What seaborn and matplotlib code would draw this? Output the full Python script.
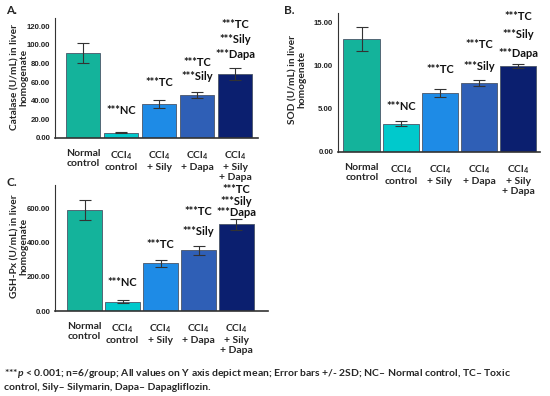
import matplotlib
matplotlib.use("Agg")
import matplotlib.pyplot as plt
import seaborn as sns
import pandas as pd
import numpy as np

# ---------------- data ----------------
groups = ["Normal\ncontrol", "CCl$_{\\mathbf{4}}$\ncontrol", "CCl$_{\\mathbf{4}}$\n+ Sily",
          "CCl$_{\\mathbf{4}}$\n+ Dapa", "CCl$_{\\mathbf{4}}$\n+ Sily\n+ Dapa"]
colors = ["#14b39b", "#00c9cc", "#1e8be6", "#2f5fb6", "#0b1f6f"]

catalase_mean = [91.0, 5.7, 36.6, 46.6, 68.8]
catalase_err = [10.6, 0.7, 4.6, 3.2, 6.6]
sod_mean = [13.0, 3.25, 6.8, 7.95, 9.88]
sod_err = [1.4, 0.27, 0.42, 0.33, 0.22]
gsh_mean = [596, 55, 280, 357, 509]
gsh_err = [59, 8, 22, 27, 34]

catalase_ticks = [0, 20, 40, 60, 80, 100, 120]
sod_ticks = [0, 5, 10, 15]
gsh_ticks = [0, 200, 400, 600]

annotations = {1: ["***NC"], 2: ["***TC"], 3: ["***TC", "***Sily"],
               4: ["***TC", "***Sily", "***Dapa"]}

# ---------------- style ----------------
sns.set_theme(style="white")
plt.rcParams["font.family"] = ["Lato", "DejaVu Sans"]
plt.rcParams["font.weight"] = "bold"
plt.rcParams["mathtext.fontset"] = "custom"
plt.rcParams["mathtext.rm"] = "Lato:bold"
plt.rcParams["mathtext.bf"] = "Lato:bold"
plt.rcParams["mathtext.it"] = "Lato:italic:bold"

W, H = 550, 396
fig = plt.figure(figsize=(W / 100, H / 100), dpi=100)


def px_axes(left, top, right, bottom):
    return fig.add_axes([left / W, 1 - bottom / H, (right - left) / W, (bottom - top) / H])


panels = [
    dict(box=(55, 18, 258, 138), mean=catalase_mean, err=catalase_err, ticks=catalase_ticks,
         ylim=128.6, xlim=(-0.74, 4.6), width=0.9,
         ylabel="Catalase (U/mL) in liver\nhomogenate", ylab_xy=(19.5, 77),
         letter="A.", letter_xy=(6, 10),
         gaps={1: 22, 2: 17.5, 3: 15.5, 4: 12.7}, sp={3: 14, 4: 15}),
    dict(box=(338, 13, 540, 152), mean=sod_mean, err=sod_err, ticks=sod_ticks,
         ylim=16.04, xlim=(-0.61, 4.56), width=0.94,
         ylabel="SOD (U/mL) in liver\nhomogenate", ylab_xy=(297.5, 79),
         letter="B.", letter_xy=(284, 10),
         gaps={1: 15, 2: 19.6, 3: 14, 4: 11}, sp={3: 22, 4: 18.5}),
    dict(box=(55, 185, 268, 311), mean=gsh_mean, err=gsh_err, ticks=gsh_ticks,
         ylim=741, xlim=(-0.78, 4.83), width=0.93,
         ylabel="GSH-Px (U/mL) in liver\nhomogenate", ylab_xy=(19.5, 246),
         letter="C.", letter_xy=(6, 183),
         gaps={1: 18, 2: 15.6, 3: 14, 4: 6}, sp={3: 20, 4: 11.5}),
]

for p in panels:
    ax = px_axes(*p["box"])
    df = pd.DataFrame({"group": groups, "value": p["mean"]})
    sns.barplot(data=df, x="group", y="value", hue="group", palette=colors,
                errorbar=None, legend=False, width=p["width"], ax=ax, saturation=1,
                edgecolor="#4a5568", linewidth=0.6)
    ax.errorbar(range(len(groups)), p["mean"], yerr=p["err"], fmt="none",
                ecolor="#333333", elinewidth=0.8, capsize=4.5, capthick=0.8)
    ax.set_ylim(0, p["ylim"])
    ax.set_xlim(*p["xlim"])
    ax.set_yticks(p["ticks"])
    ax.set_yticklabels([f"{t:.2f}" for t in p["ticks"]], fontsize=5.6,
                       family=["Liberation Sans Narrow", "Liberation Sans", "DejaVu Sans"],
                       fontweight="bold")
    ax.set_xticks(range(len(groups)))
    ax.set_xticklabels(groups, fontsize=7.5, fontweight="bold", linespacing=1.15, va="top")
    ax.tick_params(axis="x", length=0, pad=8)
    ax.tick_params(axis="y", length=2, pad=1.5, width=0.6, colors="#222222")
    ax.set_xlabel("")
    ax.set_ylabel("")
    for s in ["top", "right"]:
        ax.spines[s].set_visible(False)
    ax.spines["left"].set_color("#333333")
    ax.spines["left"].set_linewidth(0.8)
    ax.spines["bottom"].set_color("#333333")
    ax.spines["bottom"].set_linewidth(1.2)
    fig.text(p["ylab_xy"][0] / W, 1 - p["ylab_xy"][1] / H, p["ylabel"], rotation=90,
             ha="center", va="center", fontsize=7.3, fontweight="bold", linespacing=1.0)
    fig.text(p["letter_xy"][0] / W, 1 - p["letter_xy"][1] / H, p["letter"],
             ha="left", va="center", fontsize=8.5, fontweight="bold")
    # significance annotations
    for i, lines in annotations.items():
        top = p["mean"][i] + p["err"][i]
        gap = p["gaps"][i]
        sp = p["sp"].get(i, 0)
        n = len(lines)
        for k, line in enumerate(lines):
            off_px = gap + (n - 1 - k) * sp
            ax.annotate(line, xy=(i, top), xytext=(0, off_px * 0.72),
                        textcoords="offset points", ha="center", va="center",
                        fontsize=8, fontweight="bold", color="#111111",
                        annotation_clip=False)

fig.text(4 / W, 1 - 374 / H,
         "***$p$ < 0.001; n=6/group; All values on Y axis depict mean; Error bars +/- 2SD; "
         "NC\u2013 Normal control, TC\u2013 Toxic",
         ha="left", va="center", fontsize=7.45, fontweight="bold")
fig.text(4 / W, 1 - 388 / H,
         "control, Sily\u2013 Silymarin, Dapa\u2013 Dapagliflozin.",
         ha="left", va="center", fontsize=7.45, fontweight="bold")

fig.savefig("out.png", dpi=100)
